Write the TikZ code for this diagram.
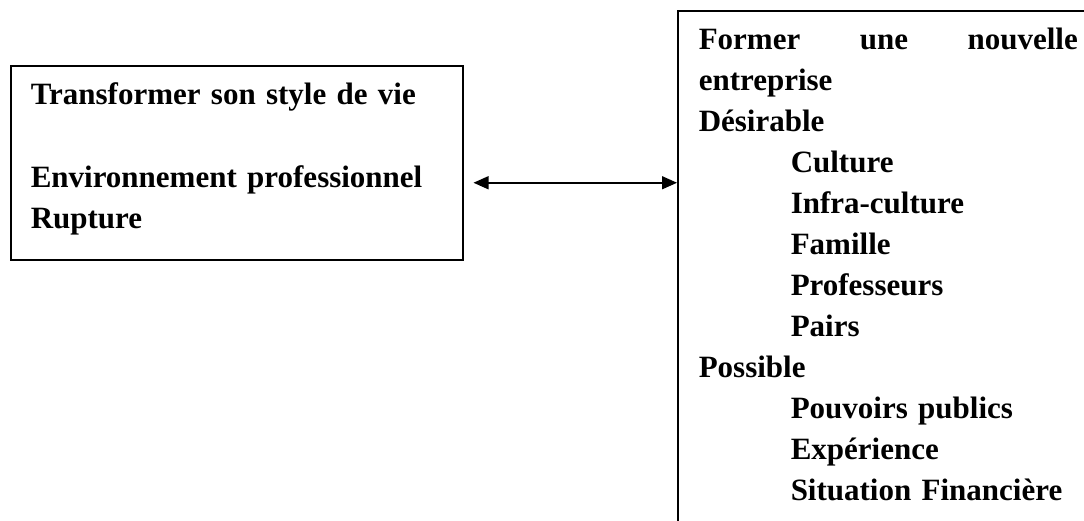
\documentclass[tikz,border=0pt]{standalone}
\usepackage{fontspec}
\setmainfont{Liberation Serif}
\usetikzlibrary{arrows.meta}

\begin{document}
\begin{tikzpicture}[x=1pt,y=-1pt,
    panel/.style={draw, line width=1.5pt, rectangle, anchor=north west, align=left,
        inner ysep=0pt, font=\fontsize{31}{41}\selectfont\bfseries}]
    \useasboundingbox (0,0) rectangle (1084,520);

    % Left box
    \node[panel, text width=412pt, inner xsep=20pt, text height=39pt, text depth=155pt] (vie) at (10,65)
        {Transformer son style de vie\\[42pt]Environnement professionnel\\Rupture};

    % Right box (runs past the page edge)
    \node[panel, text width=379pt, inner xsep=21pt, text height=39pt, text depth=520pt] (entreprise) at (677,10)
        {Former\hfill une\hfill nouvelle\\
         entreprise\\
         Désirable\\
         \hspace*{92pt}Culture\\
         \hspace*{92pt}Infra-culture\\
         \hspace*{92pt}Famille\\
         \hspace*{92pt}Professeurs\\
         \hspace*{92pt}Pairs\\
         Possible\\
         \hspace*{92pt}Pouvoirs publics\\
         \hspace*{92pt}Expérience\\
         \hspace*{92pt}Situation Financière};

    % Link
    \coordinate (link) at ([yshift=-20pt]vie.east);
    \draw[{Triangle[length=15pt,width=13pt]}-{Triangle[length=15pt,width=13pt]}, line width=1.5pt]
        ([xshift=10pt]link) -- (link -| entreprise.west);
\end{tikzpicture}
\end{document}
